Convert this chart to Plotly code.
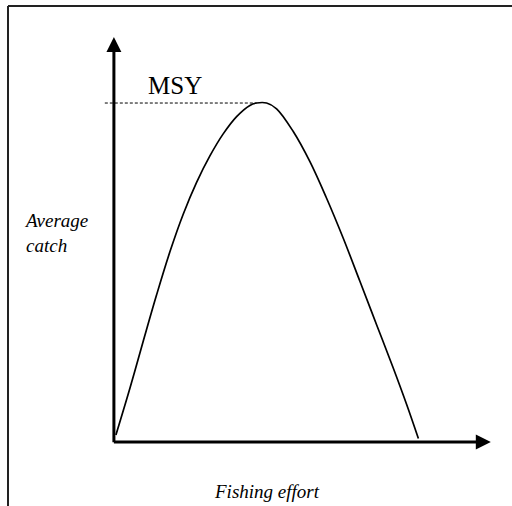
import plotly.graph_objects as go

# ---- data (arbitrary units) ----
effort = [0.66, 5.28, 9.67, 14.09, 18.48, 22.87, 27.29, 31.68, 36.07, 40.50, 44.88, 47.1, 50.4,
          53.7, 59.2, 64.7, 70.2, 75.7, 81.2, 86.7, 92.2, 96.6, 100.5]
catch = [2.06, 15.84, 29.7, 43.4, 56.1, 67.2, 76.6, 84.4, 90.9, 96.0, 99.3, 100.0, 100.0,
         98.3, 91.6, 82.7, 71.9, 60.1, 47.4, 34.6, 21.8, 11.1, 1.0]
msy_value = 100.0
msy_effort = 47.1
x_label = "Fishing effort"
y_label = "Average catch"
msy_label = "MSY"

W, H = 512, 506
X_RANGE = [-37.6, 131.4]
Y_RANGE = [-18.9, 130.4]
SERIF = "Liberation Serif, Times New Roman, serif"

fig = go.Figure()

# MSY dashed reference line
fig.add_trace(go.Scatter(
    x=[-3.0, msy_effort], y=[msy_value, msy_value], mode="lines",
    line=dict(color="black", width=1, dash="3px,2px"), hoverinfo="skip", showlegend=False))

# catch curve
fig.add_trace(go.Scatter(
    x=effort, y=catch, mode="lines", line=dict(color="black", width=1.7, shape="spline", smoothing=1.0),
    hoverinfo="skip", showlegend=False))

ann = []
# axis arrows
ann.append(dict(x=0, y=119.5, ax=0, ay=-0.5, xref="x", yref="y", axref="x", ayref="y",
                text="", showarrow=True, arrowhead=2, arrowwidth=3, arrowsize=1, arrowcolor="black", standoff=0))
ann.append(dict(x=124.4, y=0, ax=-0.5, ay=0, xref="x", yref="y", axref="x", ayref="y",
                text="", showarrow=True, arrowhead=2, arrowwidth=3, arrowsize=1, arrowcolor="black", standoff=0))
# labels
ann.append(dict(x=20.1, y=105.3, xref="x", yref="y", text=msy_label, showarrow=False,
                font=dict(family=SERIF, size=25, color="black"), xanchor="center", yanchor="middle"))
ann.append(dict(x=267 / W, y=1 - 491 / H, xref="paper", yref="paper", text="<i>" + x_label + "</i>", showarrow=False,
                font=dict(family=SERIF, size=19, color="black"), xanchor="center", yanchor="middle"))
ann.append(dict(x=22 / W, y=1 - 233 / H, xref="paper", yref="paper",
                text="<i>" + y_label.replace(" ", "<br>") + "</i>", showarrow=False, align="left",
                font=dict(family=SERIF, size=19, color="black"), xanchor="left", yanchor="middle"))

shapes = [
    dict(type="line", xref="paper", yref="paper", x0=8 / W, x1=1.02, y0=1 - 6 / H, y1=1 - 6 / H,
         line=dict(color="#222", width=2)),
    dict(type="line", xref="paper", yref="paper", x0=8 / W, x1=8 / W, y0=1 - 6 / H, y1=-0.02,
         line=dict(color="#222", width=2)),
]

fig.update_layout(
    width=W, height=H, margin=dict(l=0, r=0, t=0, b=0),
    paper_bgcolor="white", plot_bgcolor="white",
    xaxis=dict(range=X_RANGE, visible=False, fixedrange=True),
    yaxis=dict(range=Y_RANGE, visible=False, fixedrange=True),
    annotations=ann, shapes=shapes, showlegend=False,
)

fig.write_html("out.html", config={"displayModeBar": False},
               post_script="document.body.style.margin='0';document.body.style.overflow='hidden';")
